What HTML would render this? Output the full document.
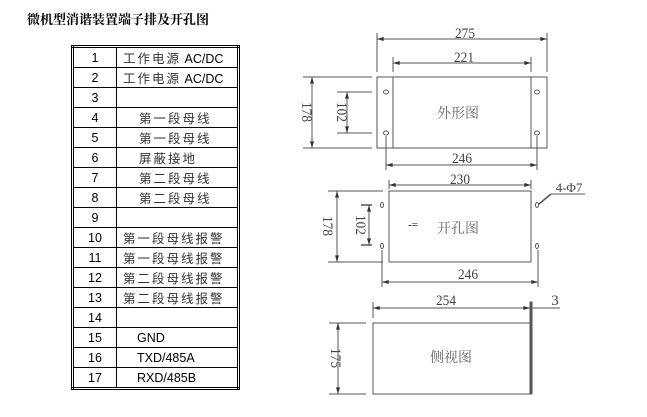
<!DOCTYPE html>
<html><head><meta charset="utf-8"><style>
body{margin:0;width:647px;height:417px;background:#fff;position:relative;overflow:hidden;font-family:"Liberation Sans","Noto Sans CJK SC",sans-serif}
.title{position:absolute;left:27px;top:9px;font-size:13px;font-weight:bold;color:#000;font-family:"Liberation Serif","Noto Serif CJK SC",serif}
table{position:absolute;left:71px;top:45px;width:169px;height:335px;border:3px double #000;border-collapse:collapse}
td{border:1px solid #000;font-size:12.5px;padding:0;height:19px;color:#000}
td.n{width:42px;text-align:center}
td.t{padding-left:6px}
.c{color:#333;letter-spacing:2px}
</style></head><body>
<div class="title">微机型消谐装置端子排及开孔图</div>
<table>
<tr><td class="n">1</td><td class="t"><span class="c">工作电源</span> AC/DC</td></tr>
<tr><td class="n">2</td><td class="t"><span class="c">工作电源</span> AC/DC</td></tr>
<tr><td class="n">3</td><td></td></tr>
<tr><td class="n">4</td><td class="t" style="padding-left:22px"><span class="c">第一段母线</span></td></tr>
<tr><td class="n">5</td><td class="t" style="padding-left:22px"><span class="c">第一段母线</span></td></tr>
<tr><td class="n">6</td><td class="t" style="padding-left:22px"><span class="c">屏蔽接地</span></td></tr>
<tr><td class="n">7</td><td class="t" style="padding-left:22px"><span class="c">第二段母线</span></td></tr>
<tr><td class="n">8</td><td class="t" style="padding-left:22px"><span class="c">第二段母线</span></td></tr>
<tr><td class="n">9</td><td></td></tr>
<tr><td class="n">10</td><td class="t"><span class="c">第一段母线报警</span></td></tr>
<tr><td class="n">11</td><td class="t"><span class="c">第一段母线报警</span></td></tr>
<tr><td class="n">12</td><td class="t"><span class="c">第二段母线报警</span></td></tr>
<tr><td class="n">13</td><td class="t"><span class="c">第二段母线报警</span></td></tr>
<tr><td class="n">14</td><td></td></tr>
<tr><td class="n">15</td><td class="t" style="padding-left:20px">GND</td></tr>
<tr><td class="n">16</td><td class="t" style="padding-left:20px">TXD/485A</td></tr>
<tr><td class="n">17</td><td class="t" style="padding-left:20px">RXD/485B</td></tr>
</table>
<svg width="647" height="417" style="position:absolute;left:0;top:0" xmlns="http://www.w3.org/2000/svg">
<defs><marker id="a" viewBox="0 0 10 6" refX="10" refY="3" markerWidth="8" markerHeight="4" orient="auto-start-reverse"><path d="M0,0L10,3L0,6z" fill="#333"/></marker></defs>
<g stroke="#555" stroke-width="1" fill="none">
<rect x="377" y="77" width="170" height="71"/>
<line x1="393" y1="77" x2="393" y2="148"/><line x1="531" y1="77" x2="531" y2="148"/>
<ellipse cx="386" cy="92" rx="2.5" ry="2"/><ellipse cx="537" cy="92" rx="2.5" ry="2"/>
<ellipse cx="386" cy="133" rx="2.5" ry="2"/><ellipse cx="537" cy="133" rx="2.5" ry="2"/>
<line x1="377" y1="33" x2="377" y2="72"/><line x1="547" y1="33" x2="547" y2="72"/>
<line x1="377" y1="39" x2="547" y2="39" marker-start="url(#a)" marker-end="url(#a)"/>
<line x1="393" y1="57" x2="393" y2="72"/><line x1="531" y1="57" x2="531" y2="72"/>
<line x1="393" y1="63" x2="531" y2="63" marker-start="url(#a)" marker-end="url(#a)"/>
<line x1="386" y1="136" x2="386" y2="170"/><line x1="537" y1="136" x2="537" y2="170"/>
<line x1="386" y1="165" x2="537" y2="165" marker-start="url(#a)" marker-end="url(#a)"/>
<line x1="303" y1="77" x2="372" y2="77"/><line x1="303" y1="148" x2="372" y2="148"/>
<line x1="312" y1="77" x2="312" y2="148" marker-start="url(#a)" marker-end="url(#a)"/>
<line x1="337" y1="92" x2="372" y2="92"/><line x1="337" y1="133" x2="372" y2="133"/>
<line x1="347" y1="92" x2="347" y2="133" marker-start="url(#a)" marker-end="url(#a)"/>
<rect x="389" y="191" width="142" height="71"/>
<ellipse cx="382" cy="205" rx="1.5" ry="2.5"/><ellipse cx="537" cy="205" rx="1.5" ry="2.5"/>
<ellipse cx="382" cy="246" rx="1.5" ry="2.5"/><ellipse cx="537" cy="246" rx="1.5" ry="2.5"/>
<line x1="389" y1="180" x2="389" y2="189"/><line x1="531" y1="180" x2="531" y2="189"/>
<line x1="389" y1="185" x2="531" y2="185" marker-start="url(#a)" marker-end="url(#a)"/>
<line x1="382" y1="250" x2="382" y2="287"/><line x1="538" y1="250" x2="538" y2="287"/>
<line x1="382" y1="282" x2="538" y2="282" marker-start="url(#a)" marker-end="url(#a)"/>
<line x1="328" y1="191" x2="383" y2="191"/><line x1="328" y1="262" x2="383" y2="262"/>
<line x1="337" y1="191" x2="337" y2="262" marker-start="url(#a)" marker-end="url(#a)"/>
<line x1="361" y1="205" x2="372" y2="205" stroke="#000"/><line x1="361" y1="245" x2="372" y2="245" stroke="#000"/>
<line x1="369" y1="205" x2="369" y2="245" marker-start="url(#a)" marker-end="url(#a)"/>
<line x1="551" y1="194" x2="585" y2="194"/><line x1="551" y1="194" x2="539" y2="204" stroke-width="1.5"/>
<rect x="373" y="323" width="157" height="71"/>
<rect x="530" y="302" width="2" height="92" fill="#555"/>
<line x1="373" y1="302" x2="373" y2="318"/>
<line x1="373" y1="308" x2="530" y2="308" marker-start="url(#a)" marker-end="url(#a)"/>
<line x1="532" y1="308" x2="560" y2="308"/>
<line x1="329" y1="323" x2="366" y2="323"/><line x1="329" y1="394" x2="366" y2="394"/>
<line x1="338" y1="323" x2="338" y2="394" marker-start="url(#a)" marker-end="url(#a)"/>
</g>
<g fill="#444" font-family="Liberation Serif,Noto Serif CJK SC,serif" font-size="15" text-anchor="middle">
<text x="465" y="38" textLength="20" lengthAdjust="spacingAndGlyphs">275</text>
<text x="464" y="62" textLength="20" lengthAdjust="spacingAndGlyphs">221</text>
<text x="462" y="163" textLength="20" lengthAdjust="spacingAndGlyphs">246</text>
<text x="458" y="118" font-size="14" fill="#666">外形图</text>
<text x="460" y="184" textLength="20" lengthAdjust="spacingAndGlyphs">230</text>
<text x="468" y="279" textLength="20" lengthAdjust="spacingAndGlyphs">246</text>
<text x="458" y="233" font-size="14" fill="#666">开孔图</text>
<text x="413" y="228" font-size="11" fill="#000">-=</text>
<text x="569" y="192" font-size="13">4-Φ7</text>
<text x="446" y="305" textLength="20" lengthAdjust="spacingAndGlyphs">254</text>
<text x="555" y="305">3</text>
<text x="451" y="362" font-size="14" fill="#666">侧视图</text>
<text transform="translate(302,112) rotate(90)" textLength="20" lengthAdjust="spacingAndGlyphs">178</text>
<text transform="translate(337,112) rotate(90)" textLength="20" lengthAdjust="spacingAndGlyphs">102</text>
<text transform="translate(323,226) rotate(90)" textLength="20" lengthAdjust="spacingAndGlyphs">178</text>
<text transform="translate(356,225) rotate(90)" textLength="20" lengthAdjust="spacingAndGlyphs">102</text>
<text transform="translate(331,358) rotate(90)" textLength="20" lengthAdjust="spacingAndGlyphs">175</text>
</g>
</svg>
</body></html>
